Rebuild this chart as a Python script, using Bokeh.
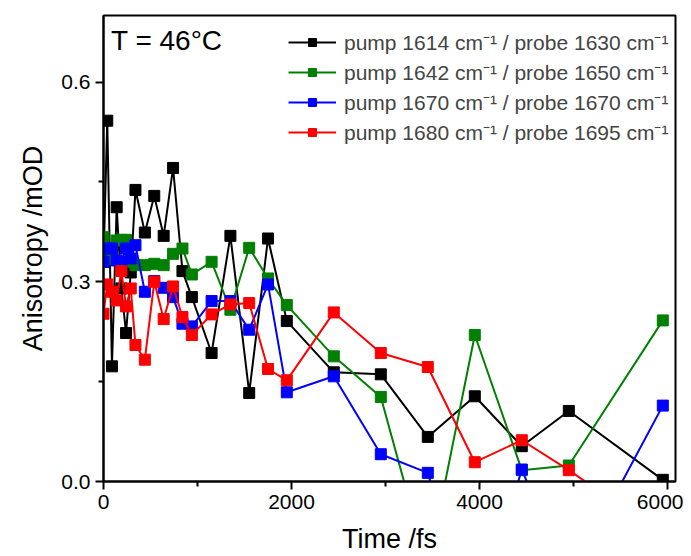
from bokeh.plotting import figure
from bokeh.models import Range1d, FixedTicker, PrintfTickFormatter, Label
from bokeh.embed import file_html
from bokeh.resources import INLINE

# Time points (fs)
t = [0, 40, 90, 140, 190, 240, 290, 340, 440, 540, 640, 740, 840, 940,
     1150, 1350, 1550, 1750, 1950, 2450, 2950, 3450, 3950, 4450, 4950, 5950]

# Anisotropy (mOD) for each pump/probe pair
black_vals = [0.330, 0.542, 0.173, 0.412, 0.290, 0.223, 0.314, 0.438, 0.374, 0.429,
              0.369, 0.471, 0.316, 0.277, 0.193, 0.369, 0.133, 0.365, 0.241, 0.164,
              0.161, 0.067, 0.128, 0.053, 0.106, 0.0025]
green_vals = [0.367, 0.335, 0.335, 0.362, 0.363, 0.363, 0.330, 0.325, 0.325, 0.327,
              0.325, 0.342, 0.350, 0.311, 0.330, 0.258, 0.351, 0.305, 0.265, 0.188,
              0.127, -0.130, 0.220, 0.017, 0.024, 0.242]
blue_vals = [0.330, 0.350, 0.350, 0.332, 0.330, 0.350, 0.335, 0.355, 0.285, 0.301,
             0.291, 0.277, 0.237, 0.233, 0.271, 0.271, 0.228, 0.296, 0.134, 0.158,
             0.041, 0.013, -0.220, 0.018, -0.150, 0.114]
red_vals = [0.252, 0.296, 0.285, 0.272, 0.316, 0.263, 0.290, 0.205, 0.183, 0.300,
            0.244, 0.293, 0.247, 0.220, 0.251, 0.266, 0.268, 0.169, 0.152, 0.254,
            0.193, 0.172, 0.029, 0.062, 0.017, -0.080]

sup = "cm\u207b\u00b9"
labels = [f"pump 1614 {sup} / probe 1630 {sup}",
          f"pump 1642 {sup} / probe 1650 {sup}",
          f"pump 1670 {sup} / probe 1670 {sup}",
          f"pump 1680 {sup} / probe 1695 {sup}"]
colors = ["#000000", "#008000", "#0000ff", "#ff0000"]
series = [black_vals, green_vals, blue_vals, red_vals]

x_ticks = [0, 2000, 4000, 6000]
x_minor = [1000, 3000, 5000]
y_ticks = [0.0, 0.3, 0.6]
y_minor = [0.15, 0.45]

FONT = "Liberation Sans"

p = figure(width=683, height=556, output_backend="svg", toolbar_location=None,
           x_range=Range1d(0, 6085), y_range=Range1d(0, 0.70),
           min_border_left=103, min_border_right=8, min_border_top=15, min_border_bottom=75)
p.grid.visible = False
p.outline_line_color = "black"
p.outline_line_width = 2
p.background_fill_color = "white"

for vals, c, lab in zip(series, colors, labels):
    p.line(t, vals, line_color=c, line_width=2, legend_label=lab)
    p.scatter(t, vals, marker="square", size=11, fill_color=c, line_color=c, legend_label=lab)

p.xaxis.ticker = FixedTicker(ticks=x_ticks, minor_ticks=x_minor)
p.yaxis.ticker = FixedTicker(ticks=y_ticks, minor_ticks=y_minor)
p.yaxis.formatter = PrintfTickFormatter(format="%.1f")

for ax in (p.xaxis[0], p.yaxis[0]):
    ax.axis_line_width = 2
    ax.axis_line_color = "black"
    ax.major_tick_line_width = 2
    ax.minor_tick_line_width = 2
    ax.major_tick_in = 0
    ax.major_tick_out = 8
    ax.minor_tick_in = 0
    ax.minor_tick_out = 5
    ax.major_label_text_font = FONT
    ax.major_label_text_font_size = "21px"
    ax.major_label_text_color = "black"
    ax.axis_label_text_font = FONT
    ax.axis_label_text_font_size = "27px"
    ax.axis_label_text_font_style = "normal"
    ax.axis_label_text_color = "black"
    ax.major_label_standoff = 5

p.xaxis.axis_label = "Time /fs"
p.yaxis.axis_label = "Anisotropy /mOD"
p.xaxis.axis_label_standoff = 12
p.yaxis.axis_label_standoff = 10

p.legend.location = (185, 335)
p.legend.border_line_color = None
p.legend.background_fill_alpha = 0
p.legend.label_text_font = FONT
p.legend.label_text_font_size = "21px"
p.legend.glyph_width = 48
p.legend.glyph_height = 20
p.legend.label_standoff = 8
p.legend.spacing = 2
p.legend.padding = 5
p.legend.margin = 0

p.add_layout(Label(x=80, y=0.663, text="T = 46°C", text_font=FONT,
                   text_font_size="28px", text_baseline="middle", text_color="black"))

open("out.html", "w").write(file_html(p, INLINE))
